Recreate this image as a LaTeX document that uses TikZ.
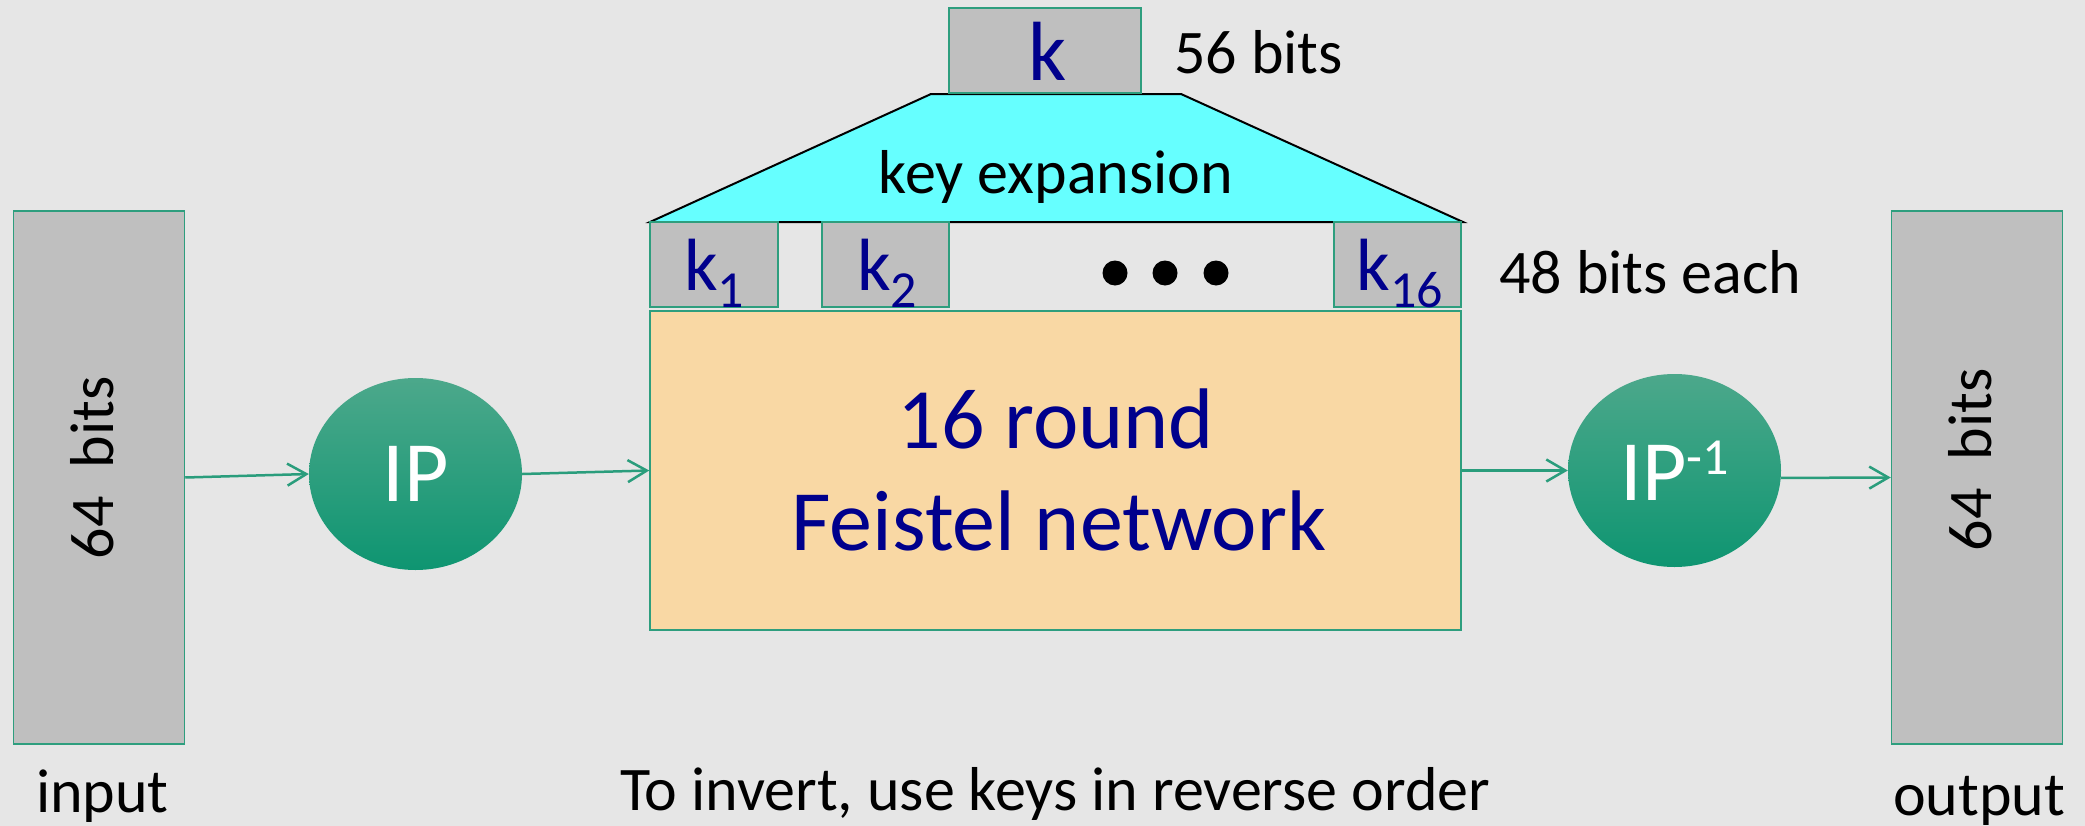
\documentclass[tikz,border=0pt]{standalone}
\usepackage{fontspec}
\setmainfont{Carlito}
\usetikzlibrary{shapes.geometric,arrows.meta}
\definecolor{bg}{HTML}{E6E6E6}
\definecolor{boxgray}{HTML}{BFBFBF}
\definecolor{edgegreen}{HTML}{2E9E7E}
\definecolor{peach}{HTML}{F9D8A4}
\definecolor{cyanfill}{HTML}{66FFFF}
\definecolor{navy}{HTML}{00008C}
\definecolor{greentop}{HTML}{4CA88B}
\definecolor{greenbot}{HTML}{0E9571}
\definecolor{arrowgreen}{HTML}{2A9D7C}
\newcommand{\ksubtext}[1]{k{\fontsize{52bp}{52bp}\selectfont\raisebox{-17bp}{#1}}}
\begin{document}
\begin{tikzpicture}[x=1bp,y=-1bp,
  grayblock/.style={draw=edgegreen,line width=1.5bp,fill=boxgray,inner sep=0pt},
  feistelbox/.style={draw=edgegreen,line width=1.5bp,fill=peach,inner sep=0pt},
  ipball/.style={ellipse,inner sep=0pt,top color=greentop,bottom color=greenbot,draw=none,text=white,font=\fontsize{86bp}{90bp}\selectfont},
  plaintext/.style={inner sep=0pt,text=black,font=\fontsize{62bp}{70bp}\selectfont},
  keytext/.style={inner sep=0pt,text=navy,font=\fontsize{74bp}{80bp}\selectfont,anchor=base},
  bigblue/.style={inner sep=0pt,text=navy,font=\fontsize{86bp}{100bp}\selectfont,anchor=base},
  flow/.style={draw=arrowgreen,line width=2.5bp,-{Straight Barb[length=19bp,width=22bp,line width=2.5bp]}}]
\fill[bg] (0,0) rectangle (2085,826);
\useasboundingbox (0,0) rectangle (2085,826);

% key expansion trapezoid
\filldraw[fill=cyanfill,draw=black,line width=2bp,line join=miter] (931,94) -- (1181,94) -- (1463,222) -- (650,222) -- cycle;
\node[plaintext,anchor=base] (kexp) at (1056,193) {key expansion};

% main key
\node[grayblock,minimum width=192bp,minimum height=85bp] (kmain) at (1045,50.5) {};
\node[inner sep=0pt,text=navy,font=\fontsize{84bp}{90bp}\selectfont,anchor=base] (kmaintext) at (1048,80) {k};
\node[plaintext,anchor=base west] (k56) at (1174,73) {56 bits};

% round keys
\node[grayblock,minimum width=128bp,minimum height=85bp] (k1) at (714,264.5) {};
\node[grayblock,minimum width=127bp,minimum height=85bp] (k2) at (885.5,264.5) {};
\node[grayblock,minimum width=127bp,minimum height=85bp] (k16) at (1397.5,264.5) {};
\node[keytext] (k1t) at (714,290) {\ksubtext{1}};
\node[keytext] (k2t) at (887,290) {\ksubtext{2}};
\node[keytext] (k16t) at (1400,290) {\ksubtext{16}};
\fill[black] (1115,273) circle (12.5) (1165,273) circle (12.5) (1216,273) circle (12.5);
\node[plaintext,anchor=base west] (k48) at (1499,293) {48 bits each};

% Feistel network
\node[feistelbox,minimum width=811bp,minimum height=319bp] (feistel) at (1055.5,470.5) {};
\node[bigblue] (f1) at (1056,448) {16 round};
\node[bigblue] (f2) at (1059,550) {Feistel network};

% input / output
\node[grayblock,minimum width=171bp,minimum height=533bp] (inbox) at (99,477.5) {};
\node[plaintext,rotate=90] (intext) at (92,468) {64~ bits};
\node[grayblock,minimum width=171bp,minimum height=533bp] (outbox) at (1977,477.5) {};
\node[plaintext,rotate=90] (outtext) at (1970,460) {64~ bits};

% permutations
\node[ipball,minimum width=213bp,minimum height=192bp] (ip) at (415.5,474) {IP};
\node[ipball,minimum width=213bp,minimum height=193bp] (ipinv) at (1674.5,470.5) {IP{\fontsize{52bp}{52bp}\selectfont\raisebox{26bp}{-1}}};

% connectors
\draw[flow] (inbox.east) -- (ip.west);
\draw[flow] (ip.east) -- (feistel.west);
\draw[flow] (feistel.east) -- (ipinv.west);
\draw[flow] (ipinv.-4) -- (outbox.west);

% captions
\node[plaintext,anchor=base] (inlabel) at (102.5,812) {input};
\node[plaintext,anchor=base] (note) at (1055,810) {To invert, use keys in reverse order};
\node[plaintext,anchor=base] (outlabel) at (1979,815) {output};
\end{tikzpicture}
\end{document}
